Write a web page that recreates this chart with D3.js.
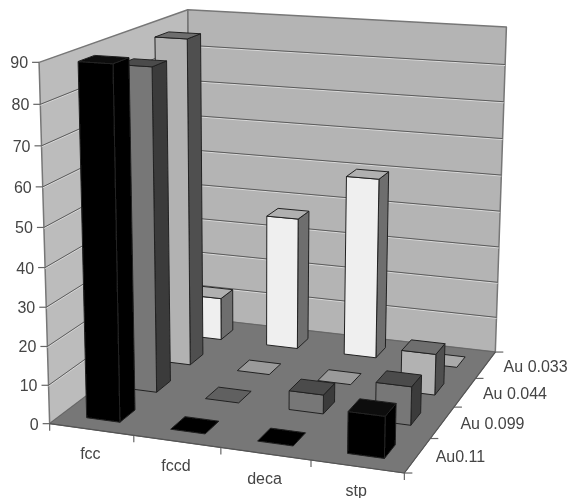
<!DOCTYPE html>
<html><head><meta charset="utf-8">
<script src="https://cdn.jsdelivr.net/npm/d3@7"></script>
<style>html,body{margin:0;background:#fff}svg{display:block}text{font-family:"Liberation Sans",Arial,sans-serif;font-size:16px;fill:#444}</style>
</head><body><div id="c"></div>
<script>
const categories=["fcc","fccd","deca","stp"];
const seriesNames=["Au0.11","Au 0.099","Au 0.044","Au 0.033"];
const au011=[89.5,0,0,10.5];
const au0099=[85,0,5,10];
const au0044=[88.5,0,0,11];
const au0033=[12,37,50,0];
const valueTicks=[0,10,20,30,40,50,60,70,80,90];
const seriesValues=[au011,au0099,au0044,au0033];
const seriesLabels=["Au0.11","Au 0.099","Au 0.044","Au 0.033"];
const faceFront=["#050505","#777777","#b2b2b2","#efefef"];
const faceTop=["#0c0c0c","#4c4c4c","#6e6e6e","#b0b0b0"];
const faceSide=["#020202","#3a3a3a","#505050","#6e6e6e"];
const faceFlat=["#030303","#606060","#9a9a9a","#aaaaaa"];

const W=569,H=498;
const svg0=d3.select("#c").append("svg").attr("width",W).attr("height",H);
svg0.append("defs").append("filter").attr("id","soft").append("feGaussianBlur").attr("stdDeviation",0.45);
const svg=svg0.append("g").attr("filter","url(#soft)");

// camera calibration: box corners (x,depth,height) -> screen
const calib=[[0,0,0,51,424],[1,0,0,404,473],[1,1,0,496,352],[0,1,0,189,317],[0,0,1,38,62],[0,1,1,189,10],[1,1,1,506,27]];
function solve(A,b){const n=b.length;const M=A.map((r,i)=>[...r,b[i]]);
 for(let i=0;i<n;i++){let p=i;for(let k=i+1;k<n;k++)if(Math.abs(M[k][i])>Math.abs(M[p][i]))p=k;[M[i],M[p]]=[M[p],M[i]];
  for(let k=0;k<n;k++)if(k!==i){const f=M[k][i]/M[i][i];for(let j=i;j<=n;j++)M[k][j]-=f*M[i][j];}}
 return M.map((r,i)=>r[n]/r[i]);}
const rows=[],rhs=[];
calib.forEach(([x,y,z,u,v])=>{rows.push([x,y,z,1,0,0,0,0,-u*x,-u*y,-u*z]);rhs.push(u);rows.push([0,0,0,0,x,y,z,1,-v*x,-v*y,-v*z]);rhs.push(v);});
const ATA=d3.range(11).map(i=>d3.range(11).map(j=>d3.sum(rows,r=>r[i]*r[j])));
const ATb=d3.range(11).map(i=>d3.sum(rows,(r,k)=>r[i]*rhs[k]));
const m=solve(ATA,ATb);
function proj(x,y,z){const w=m[8]*x+m[9]*y+m[10]*z+1;return[(m[0]*x+m[1]*y+m[2]*z+m[3])/w,(m[4]*x+m[5]*y+m[6]*z+m[7])/w];}

const xBand=d3.scaleBand().domain(categories).range([0,1]).paddingInner(.6).paddingOuter(.3);
const dBand=d3.scaleBand().domain(seriesNames).range([0,1]).paddingInner(.6).paddingOuter(.3);
const h=d3.scaleLinear().domain([0,90]).range([0,1]);
const poly=(pts,fill,stroke,sw)=>svg.append("polygon").attr("points",pts.map(p=>p.join(",")).join(" ")).attr("fill",fill).attr("stroke",stroke||"none").attr("stroke-width",sw||1).attr("stroke-linejoin","round");
const line=(a,b,c,w)=>svg.append("line").attr("x1",a[0]).attr("y1",a[1]).attr("x2",b[0]).attr("y2",b[1]).attr("stroke",c).attr("stroke-width",w||1);

// walls and floor
poly([proj(0,0,0),proj(0,1,0),proj(0,1,1),proj(0,0,1)],"#bcbcbc","#777",1.5);
poly([proj(0,1,0),proj(1,1,0),proj(1,1,1),proj(0,1,1)],"#b4b4b4","#777",1.5);
poly([proj(0,0,0),proj(1,0,0),proj(1,1,0),proj(0,1,0)],"#777777","#666",1);
// gridlines
valueTicks.filter(t=>t>0&&t<90).forEach(t=>{const z=h(t);
 [[proj(0,0,z),proj(0,1,z)],[proj(0,1,z),proj(1,1,z)]].forEach(([a,b])=>{
  line([a[0],a[1]+1],[b[0],b[1]+1],"#d8d8d8",1);line(a,b,"#5a5a5a",1);});});
line(proj(0,1,0),proj(0,1,1),"#777",1.2);
// axes ticks
valueTicks.forEach(t=>{const p=proj(0,0,h(t));line([p[0]-7,p[1]],p,"#666",1.2);
 svg.append("text").attr("x",p[0]-11).attr("y",p[1]+6).attr("text-anchor","end").text(t);});
d3.range(5).forEach(i=>{const p=proj(i/4,0,0);line(p,[p[0],p[1]+7],"#666",1.2);});
d3.range(5).forEach(i=>{const p=proj(1,i/4,0);line(p,[p[0]+8,p[1]],"#666",1.2);});
line(proj(0,0,0),proj(1,0,0),"#555",1.2);
line(proj(1,0,0),proj(1,1,0),"#555",1.2);
categories.forEach((c,i)=>{const p=proj((i+.5)/4,0,0);
 svg.append("text").attr("x",p[0]-1).attr("y",p[1]+30).attr("text-anchor","middle").text(c);});
seriesLabels.forEach((s,i)=>{const p=proj(1,(i+.5)/4,0);
 svg.append("text").attr("x",p[0]+18).attr("y",p[1]+7).text(s);});

// bars, back row first
d3.range(3,-1,-1).forEach(si=>{
 const y0=dBand(seriesNames[si]),y1=y0+dBand.bandwidth();
 categories.forEach((c,ci)=>{
  const x0=xBand(c),x1=x0+xBand.bandwidth(),v=seriesValues[si][ci],z=h(v);
  if(v===0){poly([proj(x0,y0,0),proj(x1,y0,0),proj(x1,y1,0),proj(x0,y1,0)],faceFlat[si],"#222",1);return;}
  poly([proj(x1,y0,0),proj(x1,y1,0),proj(x1,y1,z),proj(x1,y0,z)],faceSide[si],"#222",1);
  poly([proj(x0,y0,0),proj(x1,y0,0),proj(x1,y0,z),proj(x0,y0,z)],faceFront[si],"#222",1);
  poly([proj(x0,y0,z),proj(x1,y0,z),proj(x1,y1,z),proj(x0,y1,z)],faceTop[si],"#222",1);
 });
});
</script></body></html>
